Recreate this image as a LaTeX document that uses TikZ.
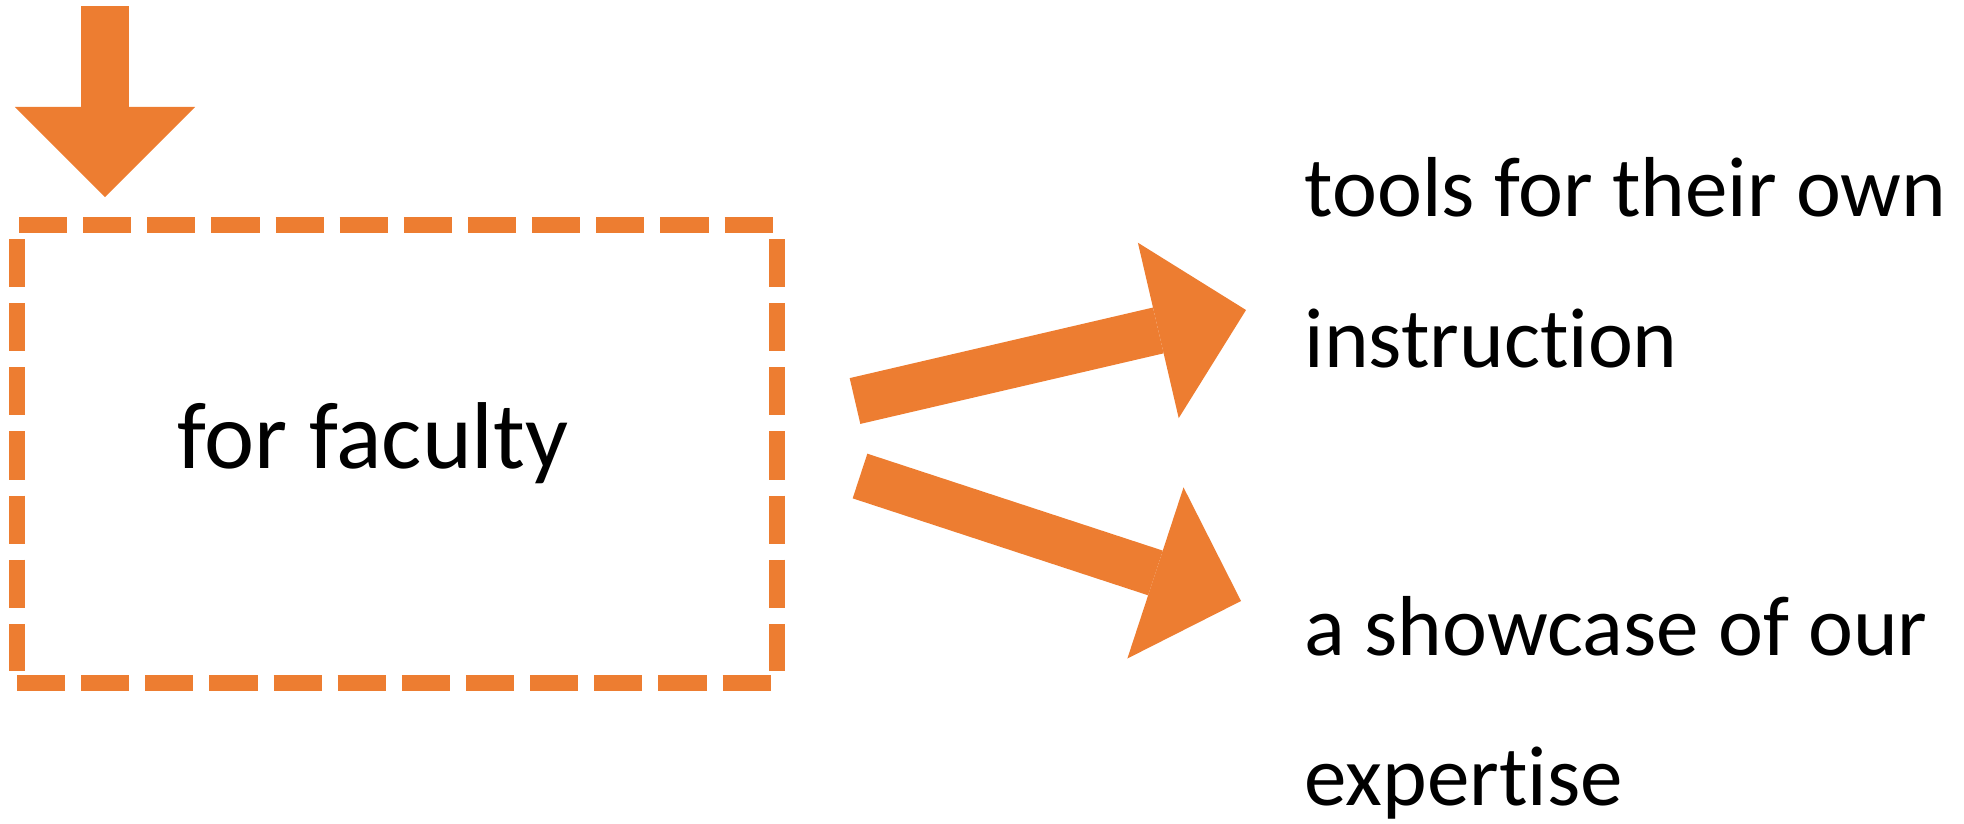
\documentclass[tikz,border=0pt]{standalone}
\usepackage{fontspec}
\setmainfont{Carlito}[Ligatures=NoCommon]
\usepackage{tikz}
\usetikzlibrary{arrows.meta}
\definecolor{PPTOrange}{RGB}{237,125,49}
\tikzset{
  blockarrow/.style={-{Triangle[length=9mm, width=18mm, line width=0pt]},
    line width=4.7mm, draw=PPTOrange, fill=PPTOrange},
  dashside/.style={line width=1.6mm, draw=PPTOrange,
    dash pattern=on 4.81mm off 1.6mm},
  bigtxt/.style={inner sep=0pt, anchor=base west,
    font=\fontsize{27pt}{32pt}\selectfont},
  smalltxt/.style={inner sep=0pt, anchor=base west,
    font=\fontsize{24.2pt}{29pt}\selectfont}
}

\begin{document}
\begin{tikzpicture}[x=0.01cm, y=-0.01cm]
  \useasboundingbox (0,0) rectangle (1964,823);
  % dashed box, one side at a time
  \draw[dashside] (19,225) -- (774,225);
  \draw[dashside] (17,683) -- (773,683);
  \draw[dashside] (17,239) -- (17,671);
  \draw[dashside] (777,239) -- (777,671);
  \node[bigtxt] (faculty) at (177,468) {for faculty};
  \node[smalltxt] (tools) at (1304,216) {tools for their own};
  \node[smalltxt] (instr) at (1304,367) {instruction};
  \node[smalltxt] (showcase) at (1304,655) {a showcase of our};
  \node[smalltxt] (expert) at (1304,805) {expertise};
  \coordinate (intail) at (105,6);
  \coordinate (inhead) at (105,197);
  \coordinate (uptail) at (855,401);
  \coordinate (uphead) at (1246,310);
  \coordinate (downtail) at (860,476);
  \coordinate (downhead) at (1241,601);
  \draw[blockarrow] (intail) -- (inhead);
  \draw[blockarrow] (uptail) -- (uphead);
  \draw[blockarrow] (downtail) -- (downhead);
\end{tikzpicture}
\end{document}
